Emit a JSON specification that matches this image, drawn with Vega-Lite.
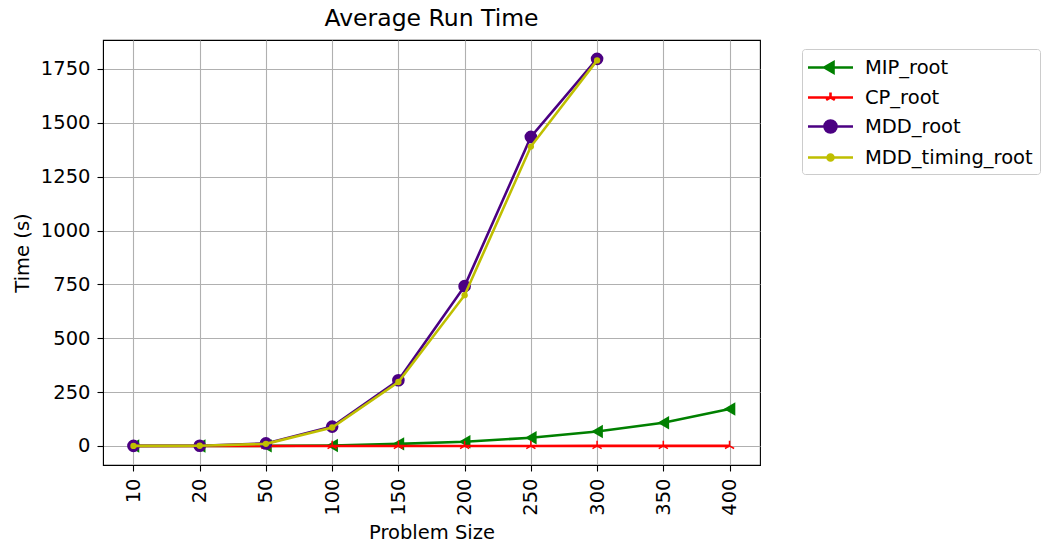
{
  "$schema": "https://vega.github.io/schema/vega-lite/v6.json",
  "width": 657,
  "height": 425,
  "autosize": {"type": "none"},
  "padding": {"left": 103, "top": 40, "right": 282, "bottom": 83},
  "background": "white",
  "title": {"text": "Average Run Time", "fontSize": 23.5, "font": "DejaVu Sans", "fontWeight": "normal", "color": "black", "offset": 10},
  "config": {
    "font": "DejaVu Sans",
    "view": {"stroke": "black", "strokeWidth": 1.1},
    "axis": {
      "labelFont": "DejaVu Sans", "labelFontSize": 19.5, "labelColor": "black",
      "titleFont": "DejaVu Sans", "titleFontSize": 19.5, "titleFontWeight": "normal", "titleColor": "black",
      "domainColor": "black", "tickColor": "black", "tickSize": 6, "tickWidth": 1.1,
      "gridColor": "#b0b0b0", "gridWidth": 1.1, "gridOpacity": 1, "labelPadding": 7
    }
  },
  "data": {"values": [
    {"size": 10, "series": "MIP_root", "time": 0},
    {"size": 20, "series": "MIP_root", "time": 0.2},
    {"size": 50, "series": "MIP_root", "time": 0.5},
    {"size": 100, "series": "MIP_root", "time": 2},
    {"size": 150, "series": "MIP_root", "time": 10},
    {"size": 200, "series": "MIP_root", "time": 20},
    {"size": 250, "series": "MIP_root", "time": 38},
    {"size": 300, "series": "MIP_root", "time": 67},
    {"size": 350, "series": "MIP_root", "time": 108},
    {"size": 400, "series": "MIP_root", "time": 172},
    {"size": 10, "series": "CP_root", "time": 0.1},
    {"size": 20, "series": "CP_root", "time": 0.1},
    {"size": 50, "series": "CP_root", "time": 0.1},
    {"size": 100, "series": "CP_root", "time": 0.2},
    {"size": 150, "series": "CP_root", "time": 0.2},
    {"size": 200, "series": "CP_root", "time": 0.3},
    {"size": 250, "series": "CP_root", "time": 0.3},
    {"size": 300, "series": "CP_root", "time": 0.4},
    {"size": 350, "series": "CP_root", "time": 0.4},
    {"size": 400, "series": "CP_root", "time": 0.5},
    {"size": 10, "series": "MDD_root", "time": 0.5},
    {"size": 20, "series": "MDD_root", "time": 1},
    {"size": 50, "series": "MDD_root", "time": 12},
    {"size": 100, "series": "MDD_root", "time": 90},
    {"size": 150, "series": "MDD_root", "time": 305},
    {"size": 200, "series": "MDD_root", "time": 742},
    {"size": 250, "series": "MDD_root", "time": 1435},
    {"size": 300, "series": "MDD_root", "time": 1797},
    {"size": 10, "series": "MDD_timing_root", "time": 0.5},
    {"size": 20, "series": "MDD_timing_root", "time": 1},
    {"size": 50, "series": "MDD_timing_root", "time": 10},
    {"size": 100, "series": "MDD_timing_root", "time": 86},
    {"size": 150, "series": "MDD_timing_root", "time": 297},
    {"size": 200, "series": "MDD_timing_root", "time": 700},
    {"size": 250, "series": "MDD_timing_root", "time": 1390},
    {"size": 300, "series": "MDD_timing_root", "time": 1790}
  ]},
  "encoding": {
    "x": {
      "field": "size", "type": "ordinal", "title": "Problem Size",
      "sort": [10, 20, 50, 100, 150, 200, 250, 300, 350, 400],
      "scale": {"type": "point", "padding": 0.46},
      "axis": {"labelAngle": 270, "grid": true, "titlePadding": 8}
    },
    "y": {
      "field": "time", "type": "quantitative", "title": "Time (s)",
      "scale": {"domain": [-88.2, 1884.6], "nice": false, "zero": false},
      "axis": {"values": [0, 250, 500, 750, 1000, 1250, 1500, 1750], "format": "d", "grid": true, "titlePadding": 8}
    },
    "color": {
      "field": "series", "type": "nominal",
      "scale": {"domain": ["MIP_root", "CP_root", "MDD_root", "MDD_timing_root"], "range": ["#008000", "#ff0000", "#4b0082", "#bfbf00"]},
      "legend": {
        "title": null, "orient": "none", "legendX": 699, "legendY": 9,
        "labelFont": "DejaVu Sans", "labelFontSize": 19.5, "labelColor": "black", "labelLimit": 400,
        "symbolSize": 400, "symbolOffset": 10, "labelOffset": 23, "rowPadding": 8,
        "padding": 7, "strokeColor": "#cccccc", "fillColor": "white", "cornerRadius": 3,
        "encode": {
          "symbols": {"update": {
            "shape": {"signal": "datum.value === 'MIP_root' ? 'M-2.25,0L2.25,0M-0.6,0L0.3,-0.52L0.3,0.52Z' : datum.value === 'CP_root' ? 'M-2.25,0L2.25,0M0,0L0,-0.5M0,0L-0.43,0.25M0,0L0.43,0.25' : datum.value === 'MDD_root' ? 'M-2.25,0L2.25,0M-0.6,0A0.6,0.6,0,1,0,0.6,0A0.6,0.6,0,1,0,-0.6,0Z' : 'M-2.25,0L2.25,0M-0.3,0A0.3,0.3,0,1,0,0.3,0A0.3,0.3,0,1,0,-0.3,0Z'"},
            "stroke": {"signal": "scale('color', datum.value)"},
            "fill": {"signal": "datum.value === 'CP_root' ? 'transparent' : scale('color', datum.value)"},
            "strokeWidth": {"value": 2.6},
            "opacity": {"value": 1}
          }}
        }
      }
    }
  },
  "layer": [
    {
      "transform": [{"filter": "datum.series === 'MIP_root'"}],
      "mark": {"type": "line", "strokeWidth": 2.6, "point": {"shape": "triangle-left", "size": 180, "filled": true, "opacity": 1}}
    },
    {
      "transform": [{"filter": "datum.series === 'CP_root'"}],
      "mark": {"type": "line", "strokeWidth": 2.6, "point": {"shape": "M0,0L0,-1M0,0L-0.87,0.5M0,0L0.87,0.5", "size": 110, "filled": false, "strokeWidth": 1.5, "opacity": 1}}
    },
    {
      "transform": [{"filter": "datum.series === 'MDD_root'"}],
      "mark": {"type": "line", "strokeWidth": 2.6, "point": {"shape": "circle", "size": 160, "filled": true, "opacity": 1}}
    },
    {
      "transform": [{"filter": "datum.series === 'MDD_timing_root'"}],
      "mark": {"type": "line", "strokeWidth": 2.6, "point": {"shape": "circle", "size": 40, "filled": true, "opacity": 1}}
    }
  ]
}
